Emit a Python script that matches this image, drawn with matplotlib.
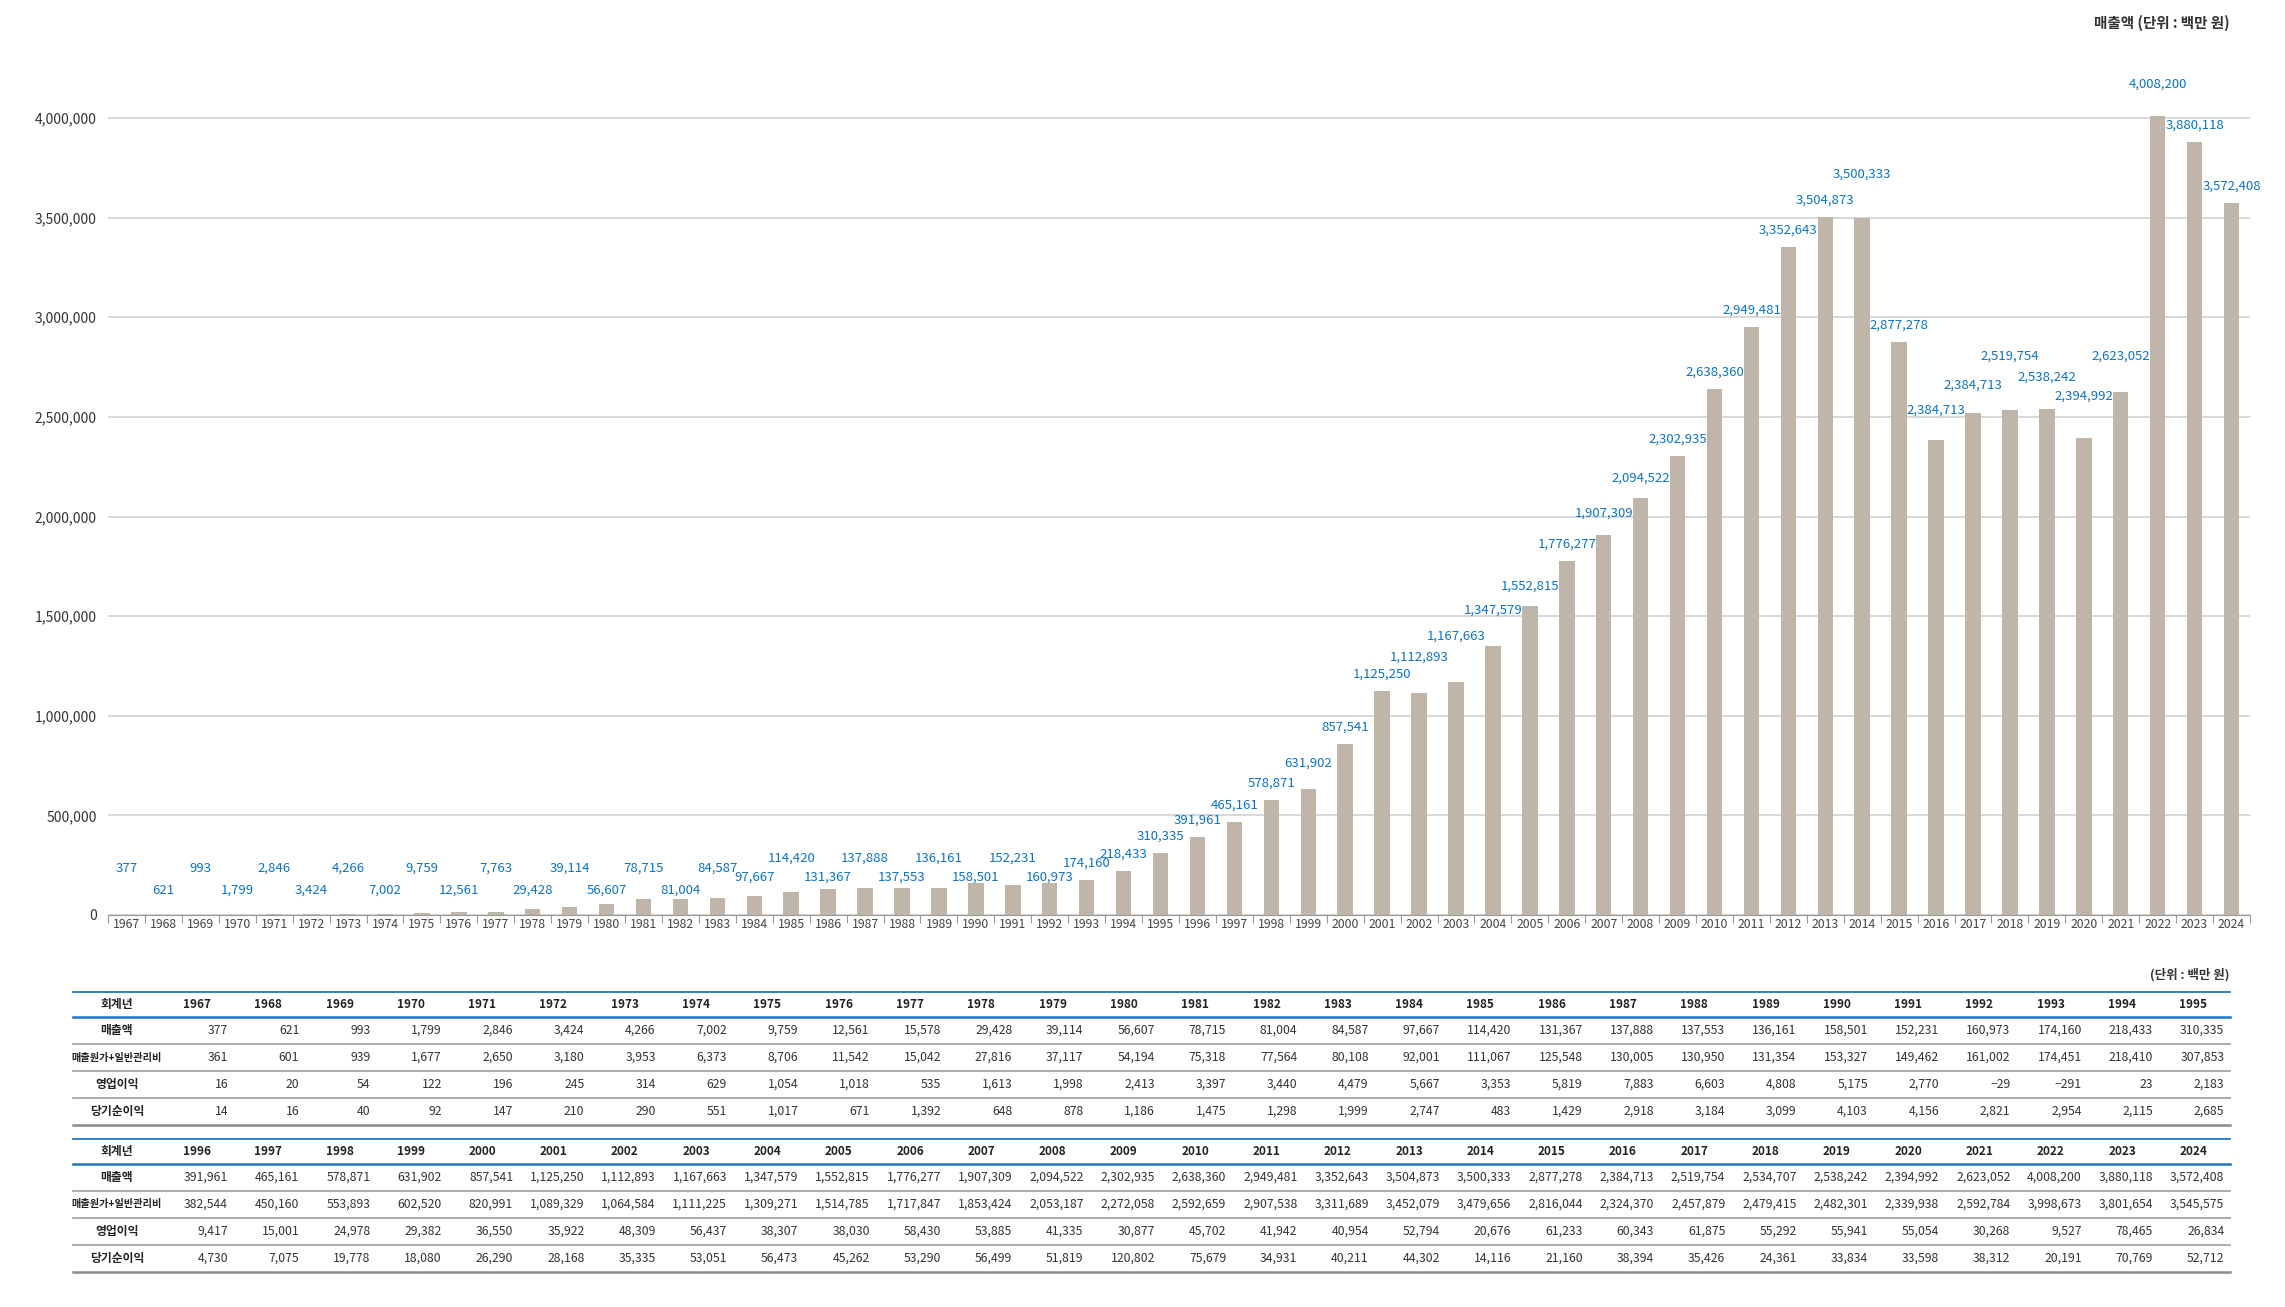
import numpy as np
import matplotlib
matplotlib.use('Agg')
from matplotlib import pyplot as plt
from matplotlib.ticker import FuncFormatter

plt.rcParams['font.family'] = ['Noto Sans CJK KR', 'DejaVu Sans']

# table data (백만 원)
years1 = list(range(1967, 1996))
rev1 = [377, 621, 993, 1799, 2846, 3424, 4266, 7002, 9759, 12561, 15578, 29428, 39114, 56607,
        78715, 81004, 84587, 97667, 114420, 131367, 137888, 137553, 136161, 158501, 152231,
        160973, 174160, 218433, 310335]
cost1 = [361, 601, 939, 1677, 2650, 3180, 3953, 6373, 8706, 11542, 15042, 27816, 37117, 54194,
         75318, 77564, 80108, 92001, 111067, 125548, 130005, 130950, 131354, 153327, 149462,
         161002, 174451, 218410, 307853]
op1 = [16, 20, 54, 122, 196, 245, 314, 629, 1054, 1018, 535, 1613, 1998, 2413, 3397, 3440,
       4479, 5667, 3353, 5819, 7883, 6603, 4808, 5175, 2770, -29, -291, 23, 2183]
net1 = [14, 16, 40, 92, 147, 210, 290, 551, 1017, 671, 1392, 648, 878, 1186, 1475, 1298,
        1999, 2747, 483, 1429, 2918, 3184, 3099, 4103, 4156, 2821, 2954, 2115, 2685]

years2 = list(range(1996, 2025))
rev2 = [391961, 465161, 578871, 631902, 857541, 1125250, 1112893, 1167663, 1347579, 1552815,
        1776277, 1907309, 2094522, 2302935, 2638360, 2949481, 3352643, 3504873, 3500333,
        2877278, 2384713, 2519754, 2534707, 2538242, 2394992, 2623052, 4008200, 3880118, 3572408]
cost2 = [382544, 450160, 553893, 602520, 820991, 1089329, 1064584, 1111225, 1309271, 1514785,
         1717847, 1853424, 2053187, 2272058, 2592659, 2907538, 3311689, 3452079, 3479656,
         2816044, 2324370, 2457879, 2479415, 2482301, 2339938, 2592784, 3998673, 3801654, 3545575]
op2 = [9417, 15001, 24978, 29382, 36550, 35922, 48309, 56437, 38307, 38030, 58430, 53885,
       41335, 30877, 45702, 41942, 40954, 52794, 20676, 61233, 60343, 61875, 55292, 55941,
       55054, 30268, 9527, 78465, 26834]
net2 = [4730, 7075, 19778, 18080, 26290, 28168, 35335, 53051, 56473, 45262, 53290, 56499,
        51819, 120802, 75679, 34931, 40211, 44302, 14116, 21160, 38394, 35426, 24361, 33834,
        33598, 38312, 20191, 70769, 52712]

# labels as printed over the bars in the chart
chart_labels = [377, 621, 993, 1799, 2846, 3424, 4266, 7002, 9759, 12561, 7763, 29428, 39114,
                56607, 78715, 81004, 84587, 97667, 114420, 131367, 137888, 137553, 136161,
                158501, 152231, 160973, 174160, 218433, 310335, 391961, 465161, 578871, 631902,
                857541, 1125250, 1112893, 1167663, 1347579, 1552815, 1776277, 1907309, 2094522,
                2302935, 2638360, 2949481, 3352643, 3504873, 3500333, 2877278, 2384713, 2384713,
                2519754, 2538242, 2394992, 2623052, 4008200, 3880118, 3572408]

row_names = ['매출액', '매출원가+일반관리비', '영업이익', '당기순이익']

years = years1 + years2
revenue = rev1 + rev2

# extra lift for crowded labels (layout only)
label_lift = {1999: 130000, 2002: 180000, 2003: 230000, 2004: 180000, 2005: 100000,
              2007: 110000, 2008: 100000, 2014: 220000, 2016: 150000, 2017: 142000,
              2018: 270000, 2019: 160000, 2020: 210000, 2021: 180000, 2022: 160000}

BAR = '#bfb5a8'
BLUE = '#0b73c8'
W, H = 2285, 1307
fig = plt.figure(figsize=(W / 100, H / 100), dpi=100)

ppm = 199.25  # pixels per million
ymax = 4400000
ax = fig.add_axes([108 / W, 1 - 915 / H, (2250 - 108) / W, ymax / 1e6 * ppm / H])
x = np.arange(len(years))
ax.bar(x, revenue, width=0.42, color=BAR, zorder=3)
ax.set_xlim(-0.5, len(years) - 0.5)
ax.set_ylim(0, ymax)
ax.set_yticks(np.arange(0, 4000001, 500000))
ax.yaxis.set_major_formatter(FuncFormatter(lambda v, p: f'{int(v):,}'))
ax.grid(axis='y', color='#d6d6d6', lw=1.3, zorder=0)
for s in ['top', 'right', 'left']:
    ax.spines[s].set_visible(False)
ax.spines['bottom'].set_color('#999999')
ax.tick_params(axis='y', length=0, pad=8, labelsize=10, labelcolor='#333333')
ax.set_xticks(x)
ax.set_xticklabels([str(y) for y in years])
ax.set_xticks(np.arange(-0.5, len(years), 1), minor=True)
ax.tick_params(axis='x', which='major', length=0, pad=2, labelsize=8.8, labelcolor='#444444')
ax.tick_params(axis='x', which='minor', length=6, color='#999999', width=0.8)

for i, (yr, v, lab) in enumerate(zip(years, revenue, chart_labels)):
    if yr < 1984:
        ly = 234000 if i % 2 == 0 else 124000
    elif yr < 1993:
        ly = 285000 if i % 2 == 0 else 190000
    else:
        ly = v + label_lift.get(yr, 85000)
    ax.text(i, ly, f'{lab:,}', ha='center', va='center', fontsize=9.5, color=BLUE, zorder=4)

# table drawn in pixel space
tb = fig.add_axes([0, 0, 1, 1])
tb.set_xlim(0, W)
tb.set_ylim(H, 0)
tb.axis('off')

tb.text(2230, 23, '매출액 (단위 : 백만 원)', ha='right', va='center', fontsize=10.5,
        fontweight='bold', color='#333333')
tb.text(2230, 975, '(단위 : 백만 원)', ha='right', va='center', fontsize=9,
        fontweight='bold', color='#333333')

x0, x1 = 73, 2230
lab_cx = 117
col0, col_w = 197, 71.3
head_h, row_h = 25, 27


def fmt(v):
    return f'{v:,}'.replace('-', '−')


for top, yrs, rows in [(992, years1, [rev1, cost1, op1, net1]),
                       (1139, years2, [rev2, cost2, op2, net2])]:
    tb.plot([x0, x1], [top, top], color='#1e78c8', lw=1.3)
    hy = top + head_h
    tb.plot([x0, x1], [hy, hy], color='#1e78c8', lw=1.8)
    tb.text(lab_cx, top + head_h / 2, '회계년', ha='center', va='center', fontsize=8.5,
            fontweight='bold', color='#222222')
    for j, yr in enumerate(yrs):
        tb.text(col0 + j * col_w, top + head_h / 2, str(yr), ha='center', va='center',
                fontsize=8.5, fontweight='bold', color='#222222')
    for r, (name, vals) in enumerate(zip(row_names, rows)):
        cy = hy + row_h * (r + 0.5)
        tb.text(lab_cx, cy, name, ha='center', va='center',
                fontsize=7.3 if len(name) > 6 else 8.5, fontweight='bold', color='#222222')
        for j, v in enumerate(vals):
            tb.text(col0 + j * col_w + 31, cy, fmt(v), ha='right', va='center',
                    fontsize=8.8, color='#333333')
        ly = hy + row_h * (r + 1)
        if r < 3:
            tb.plot([x0, x1], [ly, ly], color='#a0a0a0', lw=1.2)
        else:
            tb.plot([x0, x1], [ly, ly], color='#8a8a8a', lw=1.8)

fig.savefig('out.png', dpi=100)
